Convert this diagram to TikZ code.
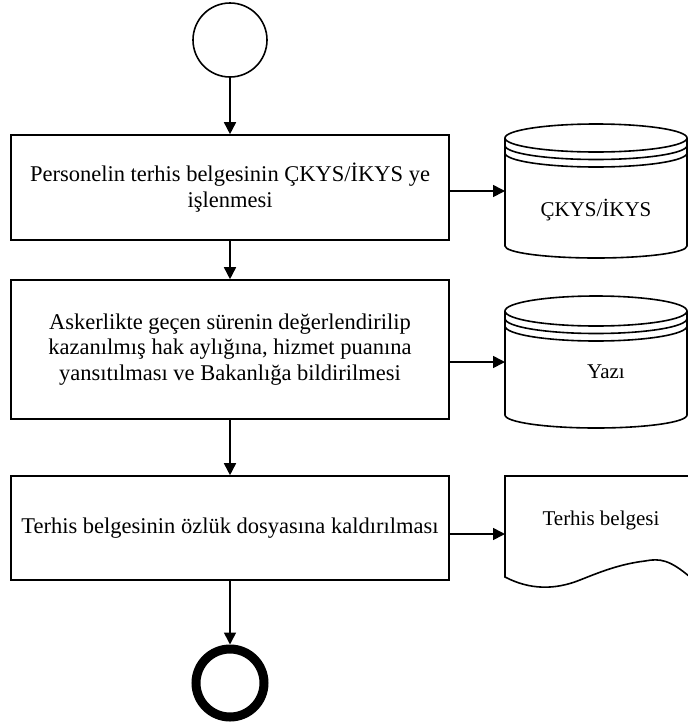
\documentclass[tikz,border=0pt]{standalone}
\usepackage{fontspec}
\setmainfont{Liberation Serif}
\usetikzlibrary{arrows.meta}
\begin{document}
\begin{tikzpicture}[x=1pt,y=-1pt,
  lbl/.style={font=\fontsize{21}{25}\selectfont, align=center, inner sep=0pt},
  steplbl/.style={font=\fontsize{22.5}{25.5}\selectfont, align=center, inner sep=0pt},
  stepbox/.style={draw, line width=1.6pt, fill=white, inner sep=0pt, steplbl},
  frame/.style={inner sep=0pt, outer sep=0pt},
  outline/.style={draw, line width=1.6pt, fill=white},
  flow/.style={line width=1.6pt, -{Triangle[length=12pt,width=12pt]}},
  startev/.style={circle, draw, line width=1.6pt, minimum size=74pt, inner sep=0pt},
  endev/.style={circle, draw, line width=9pt, minimum size=68pt, inner sep=0pt}
]
\useasboundingbox (0,0) rectangle (688,726);

% events
\node[startev] (start) at (230,40) {};
\node[endev] (end) at (230,683) {};

% process steps
\node[stepbox, minimum width=438pt, minimum height=105pt] (b1) at (230,187.5)
  {Personelin terhis belgesinin ÇKYS/İKYS ye\\işlenmesi};
\node[stepbox, minimum width=438pt, minimum height=139pt] (b2) at (230,349.5)
  {Askerlikte geçen sürenin değerlendirilip\\kazanılmış hak aylığına, hizmet puanına\\yansıtılması ve Bakanlığa bildirilmesi};
\node[stepbox, minimum width=438pt, minimum height=104pt] (b3) at (230,528)
  {Terhis belgesinin özlük dosyasına kaldırılması};

% data store: ÇKYS/İKYS
\node[frame, minimum width=182pt, minimum height=134pt] (db1) at (596,191) {};
\draw[outline] (505,138) -- (505,246) arc[start angle=180, end angle=0, x radius=91, y radius=12] -- (687,138);
\draw[outline] (596,138) ellipse [x radius=91, y radius=14];
\draw[line width=1.6pt] (505,145.5) arc[start angle=180, end angle=0, x radius=91, y radius=14];
\draw[line width=1.6pt] (505,153) arc[start angle=180, end angle=0, x radius=91, y radius=14];
\node[lbl] (db1t) at (596,210) {ÇKYS/İKYS};

% data store: Yazı
\node[frame, minimum width=182pt, minimum height=132pt] (db2) at (596,362) {};
\draw[outline] (505,311) -- (505,415) arc[start angle=180, end angle=0, x radius=91, y radius=13] -- (687,311);
\draw[outline] (596,311) ellipse [x radius=91, y radius=15];
\draw[line width=1.6pt] (505,318.5) arc[start angle=180, end angle=0, x radius=91, y radius=15];
\draw[line width=1.6pt] (505,326) arc[start angle=180, end angle=0, x radius=91, y radius=15];
\node[lbl] (db2t) at (606,372) {Yazı};

% document: Terhis belgesi
\node[frame, minimum width=182pt, minimum height=116pt] (doc) at (596,534) {};
\draw[outline] (505,476) -- (690,476) -- (690,577)
  .. controls (670,560) and (660,558) .. (645,561)
  .. controls (620,564) and (600,572) .. (580,580)
  .. controls (555,590) and (530,590) .. (505,577) -- cycle;
\node[lbl] (doct) at (601,520) {Terhis belgesi};

% sequence flow
\draw[flow] (start) -- (b1);
\draw[flow] (b1) -- (b2);
\draw[flow] (b2) -- (b3);
\draw[flow] (b3) -- (end);

% data associations
\draw[flow] (b1.east |- db1.west) -- (db1.west);
\draw[flow] (b2.east |- db2.west) -- (db2.west);
\draw[flow] (b3.east |- doc.west) -- (doc.west);
\end{tikzpicture}
\end{document}
